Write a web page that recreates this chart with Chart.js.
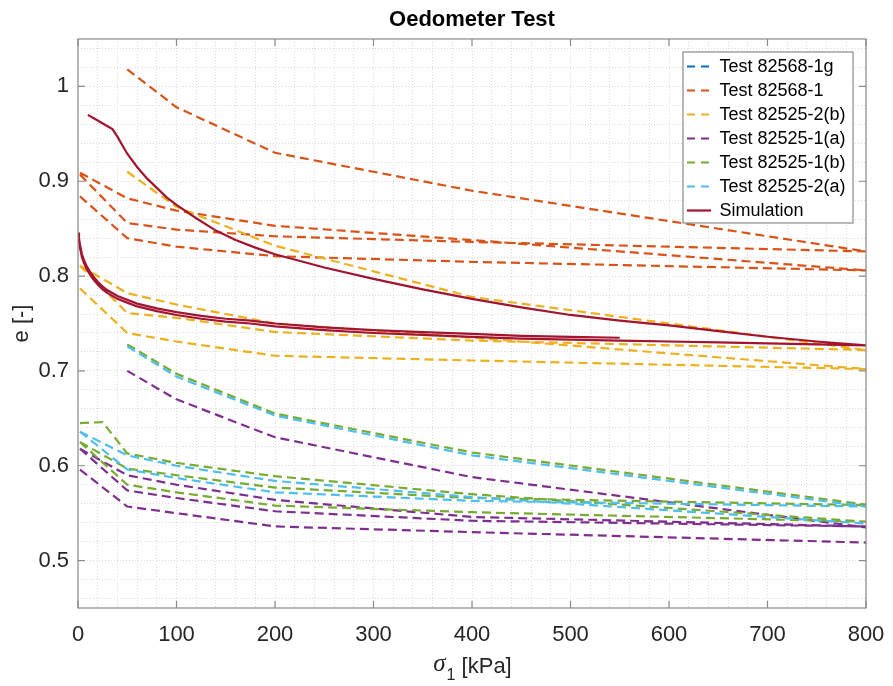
<!DOCTYPE html>
<html>
<head>
<meta charset="utf-8">
<script src="https://cdn.jsdelivr.net/npm/chart.js@4.4.1/dist/chart.umd.min.js"></script>
<style>
  html, body { margin: 0; padding: 0; background: #fff; }
</style>
</head>
<body>
<canvas id="oedometer" width="893" height="686"></canvas>
<script>
// Belastungsstufen (x-Werte in kPa)
var xFromZero = [2, 50, 100, 200, 400, 800];
var xFrom50 = [50, 100, 200, 400, 800];
var xGreenFlat = [2, 25, 50, 100, 200, 400, 800];

// Achsenbeschriftung
var xTicks = [0, 100, 200, 300, 400, 500, 600, 700, 800];
var yTicks = [0.5, 0.6, 0.7, 0.8, 0.9, 1];

// Test 82568-1g (nicht sichtbar)
var blueX = [];
var blueE = [];

// Test 82568-1
var orange50 = [1.018, 0.978, 0.930, 0.890, 0.826];
var orangeA = [0.909, 0.882, 0.869, 0.853, 0.838, 0.806];
var orangeB = [0.907, 0.856, 0.849, 0.842, 0.836, 0.826];
var orangeC = [0.884, 0.840, 0.831, 0.821, 0.815, 0.806];

// Test 82525-2(b)
var yellow50 = [0.910, 0.873, 0.832, 0.778, 0.722];
var yellowA = [0.811, 0.782, 0.770, 0.750, 0.735, 0.702];
var yellowB = [0.811, 0.761, 0.756, 0.741, 0.732, 0.722];
var yellowC = [0.787, 0.740, 0.731, 0.716, 0.711, 0.702];

// Test 82525-1(a)
var purple50 = [0.700, 0.670, 0.630, 0.588, 0.535];
var purpleA = [0.618, 0.590, 0.580, 0.564, 0.546, 0.536];
var purpleB = [0.618, 0.574, 0.566, 0.552, 0.542, 0.536];
var purpleC = [0.596, 0.557, 0.550, 0.536, 0.530, 0.519];

// Test 82525-1(b)
var green50 = [0.728, 0.697, 0.655, 0.614, 0.559];
var greenFlat = [0.645, 0.646, 0.613, 0.603, 0.589, 0.570, 0.541];
var greenA = [0.625, 0.597, 0.590, 0.577, 0.566, 0.5585];
var greenB = [0.625, 0.580, 0.572, 0.558, 0.551, 0.541];

// Test 82525-2(a)
var cyan50 = [0.726, 0.694, 0.653, 0.611, 0.557];
var cyanA = [0.636, 0.611, 0.600, 0.584, 0.567, 0.539];
var cyanB = [0.636, 0.596, 0.587, 0.572, 0.563, 0.557];

// Simulation
var simX1 = [10, 20, 30, 35, 40, 45, 50, 60, 70, 80, 90, 100, 120, 140, 160, 180, 200, 250, 300, 350, 400, 450, 500, 550, 600, 650, 700, 750, 800];
var simE1 = [0.970, 0.964, 0.958, 0.955, 0.947, 0.938, 0.929, 0.915, 0.903, 0.893, 0.883, 0.875, 0.861, 0.848, 0.838, 0.830, 0.823, 0.809, 0.797, 0.786, 0.776, 0.767, 0.759, 0.753, 0.748, 0.742, 0.736, 0.731, 0.727];
var simX2 = [0, 1, 2, 4, 6, 9, 12, 16, 20, 25, 30, 40, 50, 60, 80, 100, 125, 150, 175, 200, 250, 300, 350, 400, 450, 500, 550, 600, 650, 700, 750, 800];
var simE2 = [0.846, 0.838, 0.830, 0.820, 0.814, 0.807, 0.802, 0.796, 0.791, 0.786, 0.782, 0.776, 0.772, 0.768, 0.763, 0.759, 0.755, 0.752, 0.750, 0.747, 0.743, 0.740, 0.738, 0.736, 0.734, 0.733, 0.732, 0.731, 0.730, 0.729, 0.728, 0.727];
var simX3 = [0, 1, 2, 4, 6, 9, 12, 16, 20, 25, 30, 40, 50, 60, 80, 100, 125, 150, 175, 200, 250, 300, 350, 400, 450, 500, 550];
var simE3 = [0.846, 0.840, 0.833, 0.823, 0.817, 0.810, 0.805, 0.799, 0.794, 0.789, 0.785, 0.779, 0.775, 0.771, 0.766, 0.762, 0.758, 0.755, 0.753, 0.750, 0.746, 0.743, 0.741, 0.739, 0.737, 0.736, 0.735];

var FONT = '"Liberation Sans", Arial, Helvetica, sans-serif';
var AXIS_COLOR = '#8a8a8a';
var GRID_COLOR = '#dcdcdc';

// mehrere Kurven eines Versuchs in einen Datensatz, getrennt durch Lücken
function joinLines(parts) {
  var pts = [];
  parts.forEach(function (p, k) {
    if (k > 0) pts.push({ x: p[0][0], y: null });
    p[0].forEach(function (x, i) {
      pts.push({ x: x, y: p[1][i] });
    });
  });
  return pts;
}

function testSet(label, color, parts, order) {
  return {
    label: label,
    data: joinLines(parts),
    borderColor: color,
    borderWidth: 2.2,
    borderDash: [9, 5],
    pointRadius: 0,
    fill: false,
    spanGaps: false,
    order: order
  };
}

var datasets = [
  testSet('Test 82568-1g', '#0072BD', [[blueX, blueE]], 6),
  testSet('Test 82568-1', '#D95319', [[xFrom50, orange50], [xFromZero, orangeA], [xFromZero, orangeB], [xFromZero, orangeC]], 5),
  testSet('Test 82525-2(b)', '#EDB120', [[xFrom50, yellow50], [xFromZero, yellowA], [xFromZero, yellowB], [xFromZero, yellowC]], 4),
  testSet('Test 82525-1(a)', '#7E2F8E', [[xFrom50, purple50], [xFromZero, purpleA], [xFromZero, purpleB], [xFromZero, purpleC]], 3),
  testSet('Test 82525-1(b)', '#77AC30', [[xFrom50, green50], [xGreenFlat, greenFlat], [xFromZero, greenA], [xFromZero, greenB]], 2),
  testSet('Test 82525-2(a)', '#4DBEEE', [[xFrom50, cyan50], [xFromZero, cyanA], [xFromZero, cyanB]], 1),
  {
    label: 'Simulation',
    data: joinLines([[simX1, simE1], [simX2, simE2], [simX3, simE3]]),
    borderColor: '#A2142F',
    borderWidth: 2.2,
    pointRadius: 0,
    fill: false,
    spanGaps: false,
    order: 0
  }
];

// Rahmen, Ticks nach innen, Titel, Achsentitel und Legende im MATLAB-Stil
var decor = {
  id: 'decor',
  beforeDraw: function (chart) {
    var ctx = chart.ctx;
    ctx.save();
    ctx.fillStyle = '#fff';
    ctx.fillRect(0, 0, chart.width, chart.height);
    ctx.restore();
  },
  afterDatasetsDraw: function (chart) {
    var ctx = chart.ctx;
    var a = chart.chartArea;
    var xs = chart.scales.x, ys = chart.scales.y;
    ctx.save();
    ctx.strokeStyle = AXIS_COLOR;
    ctx.lineWidth = 1.2;
    ctx.setLineDash([]);
    ctx.strokeRect(a.left, a.top, a.right - a.left, a.bottom - a.top);
    var len = 7;
    ctx.beginPath();
    xTicks.forEach(function (v) {
      var px = xs.getPixelForValue(v);
      ctx.moveTo(px, a.bottom); ctx.lineTo(px, a.bottom - len);
      ctx.moveTo(px, a.top); ctx.lineTo(px, a.top + len);
    });
    yTicks.forEach(function (v) {
      var py = ys.getPixelForValue(v);
      ctx.moveTo(a.left, py); ctx.lineTo(a.left + len, py);
      ctx.moveTo(a.right, py); ctx.lineTo(a.right - len, py);
    });
    ctx.stroke();

    // Legende
    var lx = 683, ly = 52, lw = 170, lh = 171;
    ctx.fillStyle = '#fff';
    ctx.fillRect(lx, ly, lw, lh);
    ctx.strokeRect(lx, ly, lw, lh);
    ctx.font = '18px ' + FONT;
    ctx.textBaseline = 'middle';
    ctx.textAlign = 'left';
    chart.data.datasets.forEach(function (ds, i) {
      var y = 66.5 + i * 24;
      ctx.strokeStyle = ds.borderColor;
      ctx.lineWidth = 2.2;
      ctx.setLineDash(ds.borderDash ? [8, 6] : []);
      ctx.beginPath();
      ctx.moveTo(687, y); ctx.lineTo(711, y);
      ctx.stroke();
      ctx.setLineDash([]);
      ctx.fillStyle = '#000';
      ctx.fillText(ds.label, 719.5, y + 1);
    });
    ctx.restore();
  },
  afterDraw: function (chart) {
    var ctx = chart.ctx;
    var a = chart.chartArea;
    var cx = (a.left + a.right) / 2;
    ctx.save();
    ctx.fillStyle = '#000';
    ctx.textBaseline = 'alphabetic';

    // Titel
    ctx.font = 'bold 22px ' + FONT;
    ctx.textAlign = 'center';
    ctx.fillText('Oedometer Test', cx, 26);

    // x-Achsentitel mit Index
    var fSig = 'italic 25px "Liberation Serif", "DejaVu Serif", serif';
    var fSub = '16px ' + FONT;
    var fMain = '22px ' + FONT;
    ctx.font = fSig; var w1 = ctx.measureText('\u03C3').width;
    ctx.font = fSub; var w2 = ctx.measureText('1').width;
    ctx.font = fMain; var w3 = ctx.measureText(' [kPa]').width;
    var x0 = cx - (w1 + w2 + w3) / 2;
    ctx.textAlign = 'left';
    ctx.font = fSig; ctx.fillStyle = '#262626';
    ctx.fillText('\u03C3', x0, 671);
    ctx.font = fSub;
    ctx.fillText('1', x0 + w1 + 1, 680);
    ctx.font = fMain;
    ctx.fillText(' [kPa]', x0 + w1 + w2 + 1, 673);

    // y-Achsentitel
    ctx.translate(22, (a.top + a.bottom) / 2);
    ctx.rotate(-Math.PI / 2);
    ctx.textAlign = 'center';
    ctx.textBaseline = 'middle';
    ctx.font = '22px ' + FONT;
    ctx.fillText('e [-]', 0, 0);
    ctx.restore();
  }
};

function isTick(list, v) {
  return list.some(function (t) { return Math.abs(t - v) < 1e-6; });
}

var chart = new Chart(document.getElementById('oedometer'), {
  type: 'line',
  data: { datasets: datasets },
  options: {
    responsive: false,
    animation: false,
    layout: { padding: { top: 39, right: 27, left: 0, bottom: 0 } },
    plugins: {
      legend: { display: false },
      title: { display: false },
      tooltip: { enabled: false }
    },
    scales: {
      x: {
        type: 'linear',
        min: 0,
        max: 800,
        afterFit: function (s) { s.height = 78; s.paddingLeft = 0; s.paddingRight = 0; },
        border: { display: false, dash: [1, 2] },
        grid: { color: GRID_COLOR, lineWidth: 1, drawTicks: false },
        ticks: {
          stepSize: 20,
          autoSkip: false,
          maxRotation: 0,
          padding: 14,
          color: '#262626',
          font: { size: 22, family: FONT },
          callback: function (v) { return isTick(xTicks, v) ? String(Math.round(v)) : ''; }
        }
      },
      y: {
        type: 'linear',
        min: 0.45,
        max: 1.05,
        afterFit: function (s) { s.width = 78; s.paddingTop = 0; s.paddingBottom = 0; },
        // Nebengitter alle 0.02 (0.46 ... 1.04)
        afterBuildTicks: function (s) {
          var t = [];
          for (var k = 23; k <= 52; k++) t.push({ value: k / 50 });
          s.ticks = t;
        },
        border: { display: false, dash: [1, 2] },
        grid: { color: GRID_COLOR, lineWidth: 1, drawTicks: false },
        ticks: {
          autoSkip: false,
          padding: 9,
          color: '#262626',
          font: { size: 22, family: FONT },
          callback: function (v) {
            for (var i = 0; i < yTicks.length; i++) {
              if (Math.abs(yTicks[i] - v) < 1e-6) return String(yTicks[i]);
            }
            return '';
          }
        }
      }
    }
  },
  plugins: [decor]
});
</script>
</body>
</html>
